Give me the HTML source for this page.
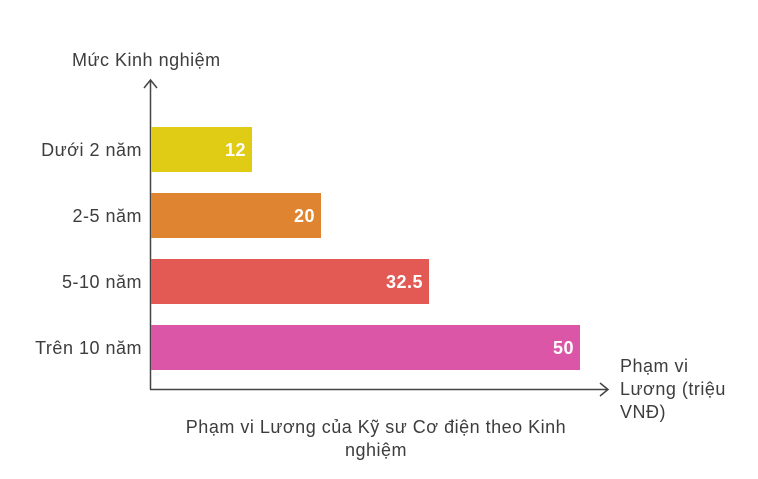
<!DOCTYPE html>
<html><head><meta charset="utf-8"><style>
html,body{margin:0;padding:0;background:#fff;}
body{width:758px;height:479px;position:relative;overflow:hidden;font-family:"Liberation Sans",sans-serif;color:#3d3d3d;}
.t{position:absolute;font-size:18px;letter-spacing:0.5px;white-space:nowrap;}
.bar{position:absolute;height:45px;}
.v{position:absolute;color:#fff;font-size:18px;font-weight:bold;letter-spacing:0.5px;}
</style></head><body>
<svg width="758" height="479" style="position:absolute;left:0;top:0">
<line x1="150.5" y1="80" x2="150.5" y2="389.5" stroke="#444" stroke-width="1.5"/>
<line x1="150" y1="389.5" x2="608" y2="389.5" stroke="#444" stroke-width="1.5"/>
<polyline points="144,88 150.5,80 157,88" fill="none" stroke="#444" stroke-width="1.5"/>
<polyline points="600,383 608,389.5 600,396" fill="none" stroke="#444" stroke-width="1.5"/>
</svg>
<div class="t" style="left:72px;top:50px;">Mức Kinh nghiệm</div>
<div class="bar" style="left:151px;top:127px;width:101px;background:#E0CB15"></div>
<div class="bar" style="left:151px;top:193px;width:170px;background:#DF8430"></div>
<div class="bar" style="left:151px;top:259px;width:278px;background:#E35A55"></div>
<div class="bar" style="left:151px;top:325px;width:429px;background:#DC56A8"></div>
<div class="v" style="right:512px;top:140px;">12</div>
<div class="v" style="right:443px;top:206px;">20</div>
<div class="v" style="right:335px;top:272px;">32.5</div>
<div class="v" style="right:184px;top:338px;">50</div>
<div class="t" style="right:616px;top:140px;">Dưới 2 năm</div>
<div class="t" style="right:616px;top:206px;">2-5 năm</div>
<div class="t" style="right:616px;top:272px;">5-10 năm</div>
<div class="t" style="right:616px;top:338px;">Trên 10 năm</div>
<div class="t" style="left:620px;top:355px;line-height:23px;">Phạm vi<br>Lương (triệu<br>VNĐ)</div>
<div class="t" style="left:166px;width:420px;top:416px;text-align:center;line-height:23px;white-space:normal;">Phạm vi Lương của Kỹ sư Cơ điện theo Kinh<br>nghiệm</div>
</body></html>
